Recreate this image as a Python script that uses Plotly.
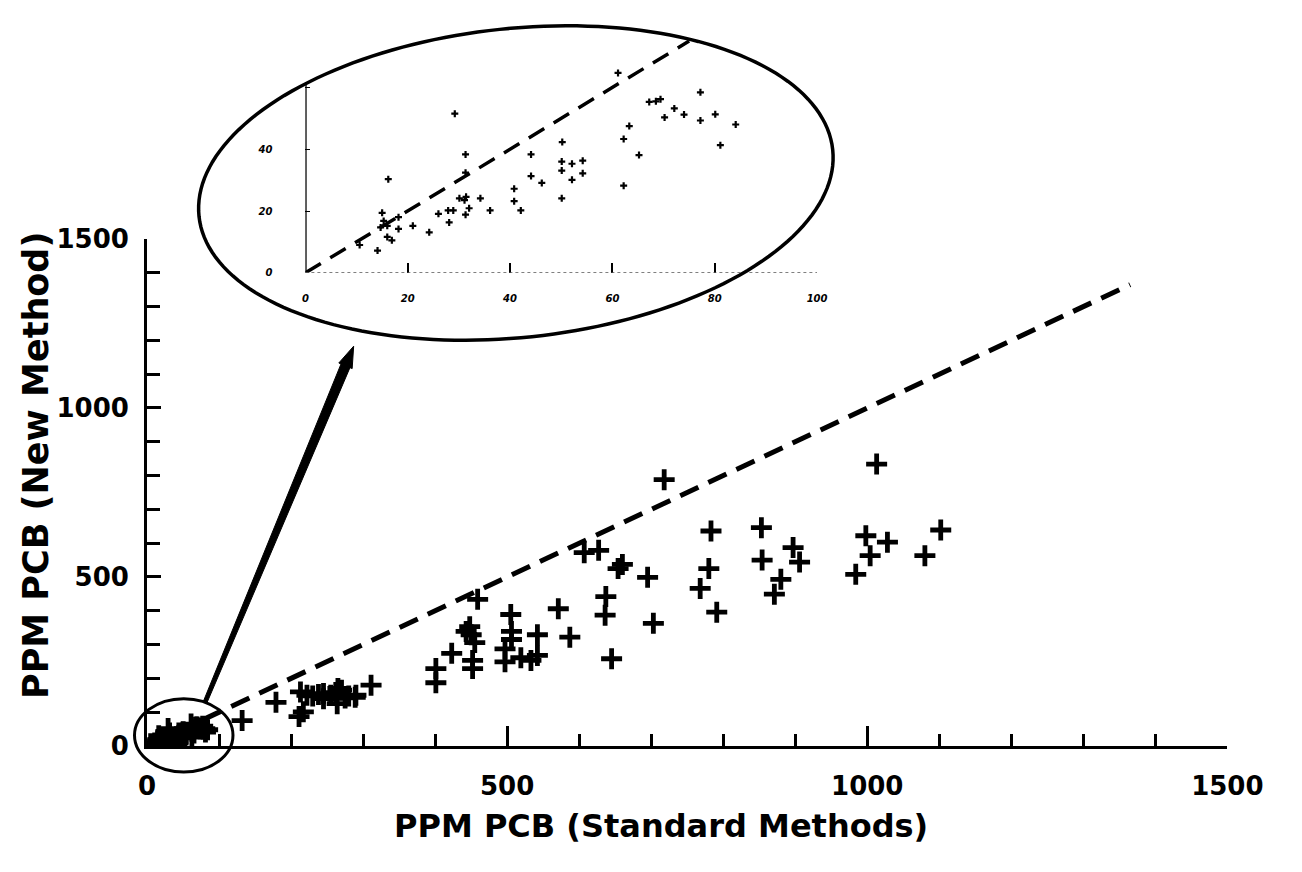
import numpy as np
import plotly.graph_objects as go

# ---------------- data ----------------
# samples above ~100 ppm (standard method, new method)
std_main = [132, 179, 211, 217, 213, 222, 230, 238, 245, 255, 262, 270, 280, 290, 245, 265, 275,
            264, 289, 311, 401, 401, 423, 443, 448, 450, 455, 452, 452, 459,
            497, 497, 505, 506, 506, 519, 533, 542, 542, 571, 587,
            607, 627, 654, 660, 695, 637, 636, 703, 645, 718,
            783, 853, 897, 906, 854, 780, 880, 768, 871, 791,
            1013, 998, 1028, 1004, 984, 1102, 1080]
new_main = [75, 129, 87, 101, 160, 150, 148, 152, 155, 150, 158, 165, 148, 150, 140, 170, 142,
            125, 144, 180, 229, 187, 274, 339, 353, 329, 306, 253, 229, 434,
            287, 249, 389, 339, 315, 261, 253, 329, 268, 406, 322,
            572, 579, 525, 537, 499, 442, 387, 363, 258, 788,
            636, 646, 587, 544, 550, 525, 493, 466, 449, 396,
            834, 622, 603, 563, 508, 639, 563]

# samples below ~100 ppm (shown in the magnified inset)
std_low = [61.1, 29.2, 16.2, 31.3, 31.3, 50.2, 44.1, 44.1, 46.2, 50.1, 52.1, 54.2, 50.1, 52.1, 54.2,
           50.1, 40.8, 40.8, 42.1, 62.2, 62.2, 65.2, 63.3, 67.2, 68.5, 69.4, 70.2, 72.1, 74.0,
           30.1, 31.1, 31.4, 32.0, 31.3, 34.2, 36.1, 27.9, 28.9, 26.0, 28.1, 24.2, 21.0, 18.2, 18.2,
           15.0, 15.3, 16.0, 16.9, 16.0, 14.1, 10.6, 14.7, 77.2, 77.2, 80.1, 84.1, 81.1]
new_low = [64.7, 51.5, 30.3, 38.3, 32.4, 42.3, 38.3, 31.3, 29.1, 36.0, 35.3, 36.3, 33.1, 30.1, 32.2,
           24.1, 27.2, 23.2, 20.2, 43.3, 28.2, 38.1, 47.5, 55.3, 55.5, 56.2, 50.3, 53.2, 51.2,
           24.1, 23.5, 24.6, 20.9, 18.8, 24.1, 20.2, 20.2, 20.2, 19.1, 16.3, 13.1, 15.2, 14.2, 18.0,
           19.4, 16.8, 15.2, 10.5, 11.6, 7.2, 9.0, 14.7, 58.4, 49.3, 51.3, 48.0, 41.3]

# 1:1 reference lines
ref_main = [0, 1365]
ref_inset = [0, 75]

main_ticks = [0, 500, 1000, 1500]
main_ticktext = ["0", "500", "1000", "1500"]
inset_xticks = [0, 20, 40, 60, 80, 100]
inset_xtext = ["0", "20", "40", "60", "80", "100"]
inset_yticks = [0, 20, 40, 60]
inset_ytext = ["0", "20", "40", ""]

# ---------------- layout helpers ----------------
W, H = 1302, 872


def fx(p):
    return p / W


def fy(p):
    return 1 - p / H


FONT = "DejaVu Sans"

fig = go.Figure()

# main scatter
fig.add_trace(go.Scatter(x=ref_main, y=ref_main, mode="lines",
                         line=dict(color="black", width=5, dash="20px,11px"),
                         xaxis="x", yaxis="y", hoverinfo="skip"))
fig.add_trace(go.Scatter(x=std_main + std_low, y=new_main + new_low, mode="markers",
                         marker=dict(symbol="cross-thin", size=15,
                                     line=dict(color="black", width=4.8)),
                         xaxis="x", yaxis="y"))

# inset
fig.add_trace(go.Scatter(x=ref_inset, y=ref_inset, mode="lines",
                         line=dict(color="black", width=3.5, dash="18px,11px"),
                         xaxis="x2", yaxis="y2", hoverinfo="skip"))
fig.add_trace(go.Scatter(x=std_low, y=new_low, mode="markers",
                         marker=dict(symbol="cross-thin", size=5,
                                     line=dict(color="black", width=2.2)),
                         xaxis="x2", yaxis="y2"))

tickfont_main = dict(family=FONT, size=26, color="black", weight="bold")
tickfont_inset = dict(family=FONT, size=10, color="black", weight="bold", style="italic")

fig.update_layout(
    width=W, height=H,
    margin=dict(l=0, r=0, t=0, b=0),
    paper_bgcolor="white", plot_bgcolor="rgba(0,0,0,0)",
    showlegend=False,
    xaxis=dict(domain=[fx(143), fx(1262)], range=[0, 1500], showgrid=False, zeroline=False,
               showline=True, linecolor="black", linewidth=3,
               tickvals=main_ticks, ticktext=main_ticktext, ticks="inside", ticklen=20,
               tickwidth=3, tickcolor="black", tickfont=tickfont_main, ticklabelstandoff=15,
               minor=dict(dtick=100, ticks="inside", ticklen=12, tickwidth=3, tickcolor="black"),
               anchor="y"),
    yaxis=dict(domain=[fy(757), fy(232)], range=[0, 1500], showgrid=False, zeroline=False,
               showline=True, linecolor="black", linewidth=3,
               tickvals=main_ticks, ticktext=main_ticktext, ticks="inside", ticklen=14,
               tickwidth=3, tickcolor="black", tickfont=tickfont_main, ticklabelstandoff=10,
               minor=dict(dtick=100, ticks="inside", ticklen=13, tickwidth=3, tickcolor="black"),
               anchor="x"),
    xaxis2=dict(domain=[fx(307), fx(837)], range=[0, 100], showgrid=False, zeroline=False,
                showline=False, tickvals=inset_xticks, ticktext=inset_xtext,
                ticks="inside", ticklen=10, tickwidth=2, tickcolor="black",
                tickfont=tickfont_inset, ticklabelstandoff=18, anchor="y2"),
    yaxis2=dict(domain=[fy(267), fy(11)], range=[0, 80], showgrid=False, zeroline=False,
                showline=False, tickvals=inset_yticks, ticktext=inset_ytext,
                ticks="inside", ticklen=5, tickwidth=1, tickcolor="black",
                tickfont=tickfont_inset, ticklabelstandoff=32, anchor="x2"),
)

shapes = []
# inset axis lines
shapes.append(dict(type="line", xref="x2", yref="y2", x0=0, y0=0, x1=0, y1=61,
                   line=dict(color="black", width=2.5)))
shapes.append(dict(type="line", xref="x2", yref="y2", x0=0, y0=0, x1=100, y1=0,
                   line=dict(color="#555", width=1.5, dash="dot")))

# big magnifier ellipse (slightly rotated)
cx, cy, a, b, phi = 525, 174, 330, 160, np.deg2rad(6)
t = np.linspace(0, 2 * np.pi, 181)
ex = cx + a * np.cos(t) * np.cos(phi) + b * np.sin(t) * np.sin(phi)
ey = cy - a * np.cos(t) * np.sin(phi) + b * np.sin(t) * np.cos(phi)
path = "M " + " L ".join(f"{fx(u):.5f},{fy(v):.5f}" for u, v in zip(ex, ey)) + " Z"
shapes.append(dict(type="path", xref="paper", yref="paper", path=path,
                   line=dict(color="black", width=3.5)))

# small circle around origin
shapes.append(dict(type="circle", xref="paper", yref="paper",
                   x0=fx(130), x1=fx(232), y0=fy(784), y1=fy(708),
                   line=dict(color="black", width=3)))

# tapered arrow from small circle to the magnified view
tail = np.array([203.0, 712.0])
head = np.array([357.0, 343.0])
d = head - tail
L = np.hypot(*d)
u = d / L
n = np.array([-u[1], u[0]])
neck = head - u * 22
pts = [tail + n * 2.0, neck + n * 5.0, neck + n * 7.5, head, neck - n * 7.5, neck - n * 5.0, tail - n * 2.0]
apath = "M " + " L ".join(f"{fx(p[0]):.5f},{fy(p[1]):.5f}" for p in pts) + " Z"
shapes.append(dict(type="path", xref="paper", yref="paper", path=apath,
                   fillcolor="black", line=dict(color="black", width=1)))

fig.update_layout(shapes=shapes)

# axis titles
fig.add_annotation(text="PPM PCB (Standard Methods)", xref="paper", yref="paper",
                   x=fx(675), y=fy(840), showarrow=False, xanchor="center", yanchor="middle",
                   font=dict(family=FONT, size=32, color="black", weight="bold"))
fig.add_annotation(text="PPM PCB (New Method)", xref="paper", yref="paper",
                   x=fx(28), y=fy(467), showarrow=False, xanchor="center", yanchor="middle",
                   textangle=-90,
                   font=dict(family=FONT, size=35, color="black", weight="bold"))

fig.write_html("out.html")
